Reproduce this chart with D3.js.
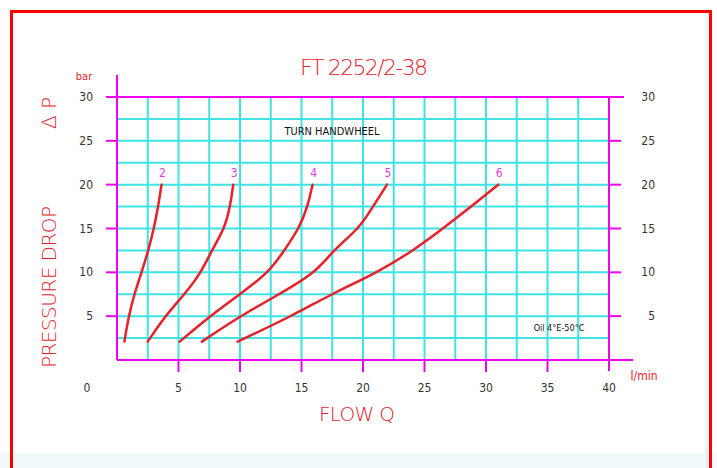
<!DOCTYPE html>
<html>
<head>
<meta charset="utf-8">
<script src="https://cdn.jsdelivr.net/npm/d3@7"></script>
<style>
  body { margin: 0; background: #fff; }
  text { font-family: "DejaVu Sans Condensed", "Liberation Sans Narrow", "DejaVu Sans", sans-serif; }
  .thin { font-family: "DejaVu Sans", sans-serif; font-weight: 200; }
</style>
</head>
<body>
<div id="chart"></div>
<script>
// ticks and grid
var xTicks = [5, 10, 15, 20, 25, 30, 35, 40];
var yTicks = [5, 10, 15, 20, 25, 30];
var gridStep = 2.5;

// curves, one per handwheel turn: [flow l/min, pressure bar]
var turns = ["2", "3", "4", "5", "6"];
var curve2 = [[0.6,2.1],[0.95,5],[1.4,7.5],[2,10],[2.55,12.5],[3,15],[3.35,17.5],[3.62,20]];
var curve3 = [[2.5,2.1],[3.9,5],[5.5,7.5],[6.85,10],[7.7,12.5],[8.75,15],[9.2,17.5],[9.45,20]];
var curve4 = [[5.1,2.1],[7.55,5],[10,7.5],[12.35,10],[13.6,12.5],[14.8,15],[15.5,17.5],[15.9,20]];
var curve5 = [[6.9,2.1],[10,5],[13.2,7.5],[16.2,10],[17.55,12.5],[19.7,15],[20.8,17.5],[21.95,20]];
var curve6 = [[9.8,2.1],[14.2,5],[17.4,7.5],[21.2,10],[24.1,12.5],[26.5,15],[28.8,17.5],[31,20]];
var curves = [curve2, curve3, curve4, curve5, curve6];

var W = 717, H = 468;
var magenta = "#f000f0", cyan = "#3fe3e3", red = "#e8202a";

var svg = d3.select("#chart").append("svg")
    .attr("width", W).attr("height", H);

var x = d3.scaleLinear().domain([0, 40]).range([117, 609]);
var y = d3.scaleLinear().domain([0, 30]).range([360, 97]);

// faint band at the bottom + frame
svg.append("rect").attr("x", 0).attr("y", 453).attr("width", W).attr("height", 15).attr("fill", "#f2fafc");
svg.append("line").attr("x1", 706).attr("x2", 706).attr("y1", 14).attr("y2", H)
    .attr("stroke", "#e6e6e6").attr("stroke-width", 1);
svg.append("rect").attr("x", 11.5).attr("y", 11.5).attr("width", 699).attr("height", 480)
    .attr("fill", "none").attr("stroke", "#ff0000").attr("stroke-width", 3);

// cyan grid
var gx = d3.range(gridStep, 40, gridStep);
var gy = d3.range(gridStep, 30, gridStep);
svg.append("g").selectAll("line").data(gx).enter().append("line")
    .attr("x1", d => x(d)).attr("x2", d => x(d))
    .attr("y1", y(30)).attr("y2", y(0))
    .attr("stroke", cyan).attr("stroke-width", 2);
svg.append("g").selectAll("line").data(gy).enter().append("line")
    .attr("x1", x(0)).attr("x2", x(40))
    .attr("y1", d => y(d)).attr("y2", d => y(d))
    .attr("stroke", cyan).attr("stroke-width", 2);

// magenta axes
var ax = svg.append("g").attr("stroke", magenta).attr("stroke-width", 2);
ax.append("line").attr("x1", x(0)).attr("x2", x(0)).attr("y1", 75).attr("y2", y(0));
ax.append("line").attr("x1", 106).attr("x2", 624).attr("y1", y(30)).attr("y2", y(30));
ax.append("line").attr("x1", x(40)).attr("x2", x(40)).attr("y1", y(30)).attr("y2", 371);
ax.append("line").attr("x1", x(0)).attr("x2", 633).attr("y1", y(0)).attr("y2", y(0));
ax.selectAll(".lt").data(yTicks.slice(0, -1)).enter().append("line")
    .attr("x1", 106).attr("x2", x(0)).attr("y1", d => y(d)).attr("y2", d => y(d));
ax.selectAll(".rt").data(yTicks.slice(0, -1)).enter().append("line")
    .attr("x1", x(40)).attr("x2", 621).attr("y1", d => y(d)).attr("y2", d => y(d));
ax.selectAll(".bt").data(xTicks.slice(0, -1)).enter().append("line")
    .attr("x1", d => x(d)).attr("x2", d => x(d)).attr("y1", y(0)).attr("y2", 372);

// tick labels
var tl = svg.append("g").attr("fill", "#333").attr("font-size", 12);
tl.selectAll(".yl").data(yTicks).enter().append("text")
    .attr("x", 93).attr("y", d => y(d) + 4).attr("text-anchor", "end").text(d => d);
tl.selectAll(".yr").data(yTicks).enter().append("text")
    .attr("x", 655).attr("y", d => y(d) + 4).attr("text-anchor", "end").text(d => d);
tl.selectAll(".xl").data(xTicks).enter().append("text")
    .attr("x", d => x(d)).attr("y", 392).attr("text-anchor", "middle").text(d => d);
tl.append("text").attr("x", 87).attr("y", 392).attr("text-anchor", "middle").text("0");

// curves
var line = d3.line().x(d => x(d[0])).y(d => y(d[1])).curve(d3.curveBasis);
svg.append("g").selectAll("path").data(curves).enter().append("path")
    .attr("d", line).attr("fill", "none").attr("stroke", red)
    .attr("stroke-width", 2.5).attr("stroke-linecap", "round");

svg.append("g").selectAll("text").data(curves).enter().append("text")
    .attr("x", d => x(d[d.length - 1][0]) + 1)
    .attr("y", d => y(d[d.length - 1][1]) - 8)
    .attr("text-anchor", "middle").attr("fill", "#e040e0").attr("font-size", 12)
    .text((d, i) => turns[i]);

// titles and labels
svg.append("text").attr("class", "thin").attr("x", 364).attr("y", 75).attr("text-anchor", "middle")
    .attr("fill", red).attr("font-size", 22).attr("textLength", 128).text("FT 2252/2-38");
svg.append("text").attr("x", 84).attr("y", 80).attr("text-anchor", "middle")
    .attr("fill", red).attr("font-size", 11).text("bar");
svg.append("text").attr("class", "thin").attr("transform", "translate(56,113) rotate(-90)").attr("text-anchor", "middle")
    .attr("fill", red).attr("font-size", 20).text("Δ  P");
svg.append("text").attr("class", "thin").attr("transform", "translate(56,287) rotate(-90)").attr("text-anchor", "middle")
    .attr("fill", red).attr("font-size", 20).attr("textLength", 162).text("PRESSURE DROP");
svg.append("text").attr("class", "thin").attr("x", 357).attr("y", 421).attr("text-anchor", "middle")
    .attr("fill", red).attr("font-size", 20).attr("textLength", 76).text("FLOW Q");
svg.append("text").attr("x", 644).attr("y", 380).attr("text-anchor", "middle")
    .attr("fill", red).attr("font-size", 12).text("l/min");
svg.append("text").attr("x", 332).attr("y", 135).attr("text-anchor", "middle")
    .attr("fill", "#111").attr("font-size", 11).text("TURN HANDWHEEL");
svg.append("text").attr("x", 559).attr("y", 331).attr("text-anchor", "middle")
    .attr("fill", "#111").attr("font-size", 9).text("Oil  4°E-50°C");
</script>
</body>
</html>
